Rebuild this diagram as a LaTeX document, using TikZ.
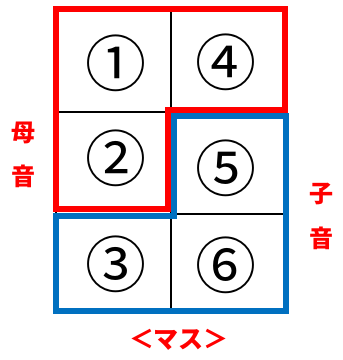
\documentclass[tikz,border=0pt]{standalone}
\usepackage{fontspec}
\newfontfamily\jp{Noto Sans CJK JP}
\definecolor{myred}{RGB}{255,0,0}
\definecolor{myblue}{RGB}{0,112,192}
\tikzset{
  gridline/.style={draw=black, line width=2pt},
  redline/.style={draw=myred, line width=6.5pt, line join=miter},
  blueline/.style={draw=myblue, line width=6pt, line join=miter},
  num/.style={inner sep=0pt, font=\jp\fontsize{61}{61}\selectfont},
  lab/.style={inner sep=0pt, text=myred, font=\jp\bfseries\fontsize{24}{24}\selectfont},
  labw/.style={inner sep=0pt, text=myred, font=\jp\bfseries\fontsize{25}{25}\selectfont},
}
\begin{document}
\begin{tikzpicture}[x=1pt,y=-1pt]
\useasboundingbox (0,0) rectangle (343,360);
% grid
\draw[gridline] (56,9) rectangle (285,311);
\draw[gridline] (171,9) -- (171,311);
\draw[gridline] (56,112) -- (285,112);
\draw[gridline] (56,214) -- (285,214);
% outlines
\draw[blueline] (174,116) -- (286,116) -- (286,311) -- (56,311) -- (56,215.5) -- (174,215.5) -- cycle;
\draw[redline] (56,9) -- (285,9) -- (285,110) -- (168,110) -- (168,209) -- (56,209) -- cycle;
% numbers
\node[num] (n1) at (115.5,63) {①};
\node[num] (n2) at (115.5,158) {②};
\node[num] (n3) at (115.5,264) {③};
\node[num] (n4) at (226.5,62) {④};
\node[num] (n5) at (226.5,168.5) {⑤};
\node[num] (n6) at (226.5,265) {⑥};
% labels
\node[lab] (b1) at (24,133) {母};
\node[lab] (b2) at (24,176) {音};
\node[lab] (s1) at (322,194) {子};
\node[lab] (s2) at (322,238) {音};
\node[labw] (ms) at (179,340) {＜マス＞};
\end{tikzpicture}
\end{document}
